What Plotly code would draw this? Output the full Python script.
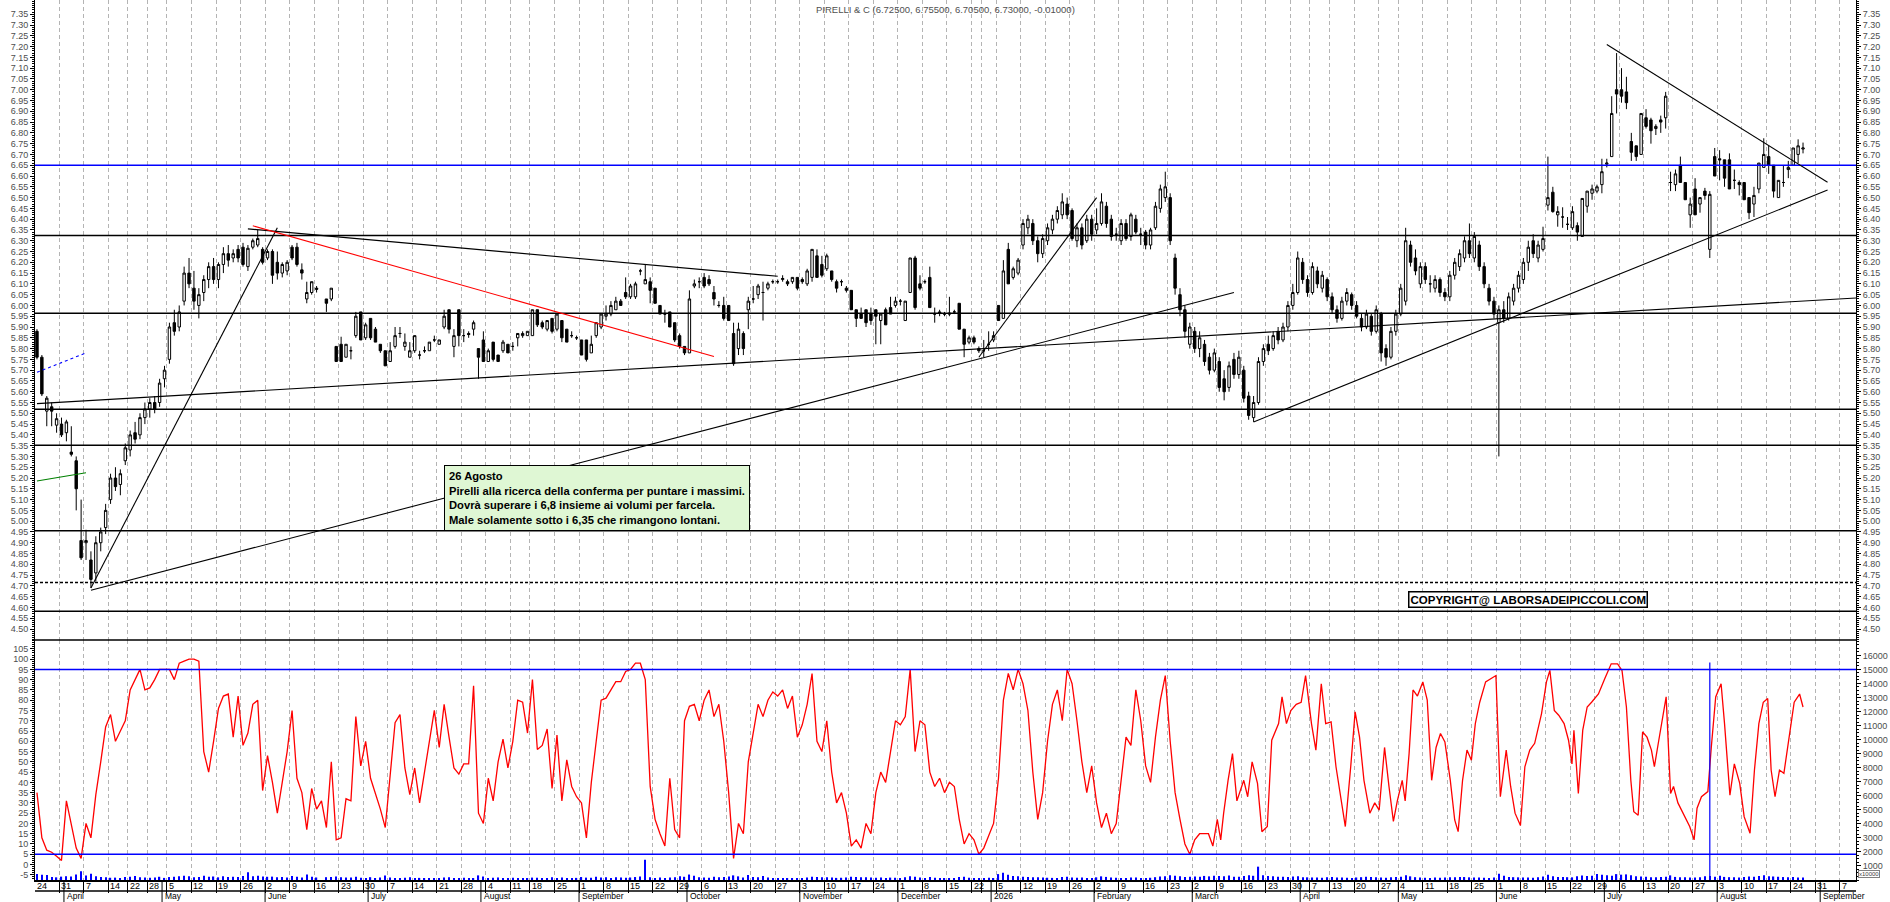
import pandas as pd
import plotly.graph_objects as go

# Trading sessions on the time axis (Borsa Italiana closing days removed)
HOLIDAYS = ["2025-04-18", "2025-04-21", "2025-05-01", "2025-08-15", "2025-12-24",
            "2025-12-25", "2025-12-26", "2025-12-31", "2026-01-01", "2026-04-03",
            "2026-04-06", "2026-05-01"]
sessions = pd.bdate_range("2025-03-24", "2026-09-30", freq="C", holidays=HOLIDAYS)

# Daily candles, one entry per session starting 24 March 2025 (None = no candle)
opens = [
    5.88, 5.76, 5.51, 5.53, 5.445, 5.45, 5.41, 5.32, 5.28, 4.91,
    4.90, 4.82, 4.76, 4.90, 4.97, 5.10, 5.20, 5.17, 5.28, 5.33,
    5.41, 5.40, 5.48, 5.52, 5.55, 5.55, 5.66, 5.75, 5.92, 5.90,
    6.02, 6.15, 6.08, 6.00, 6.06, 6.12, 6.18, 6.12, 6.19, 6.24,
    6.22, 6.26, 6.27, 6.18, 6.27, 6.28, 6.26, 6.22, 6.25, 6.20,
    6.15, 6.16, 6.27, 6.27, 6.165, 6.03, 6.06, 6.08, None, 6.03,
    6.03, 5.81, 5.82, 5.76, 5.79, 5.86, 5.97, 5.85, 5.94, 5.89,
    5.82, 5.79, 5.74, 5.81, 5.87, 5.81, 5.76, 5.79, 5.77, 5.79,
    5.79, 5.84, 5.82, 5.90, 5.98, 5.81, 5.98, 5.86, 5.87, 5.89,
    5.80, 5.84, 5.74, 5.83, 5.77, 5.79, 5.82, 5.81, 5.85, 5.86,
    5.86, 5.86, 5.98, 5.92, 5.89, 5.94, 5.89, 5.93, 5.89, 5.86,
    5.85, 5.84, 5.84, 5.78, 5.86, 5.90, 5.95, 5.96, 5.98, 6.02,
    6.06, 6.04, 6.04, 6.16, 6.10, 6.11, 6.08, 6.00, 5.96, 5.97,
    5.92, 5.86, 5.81, 5.78, 6.09, 6.11, 6.13, 6.12, 6.06, 6.00,
    6.00, 6.00, 5.87, 5.80, 5.87, 5.98, 6.03, 6.05, 6.06, 6.08,
    6.11, 6.11, 6.12, 6.11, 6.11, 6.13, 6.12, 6.10, 6.13, 6.23,
    6.19, 6.17, 6.16, 6.11, 6.11, 6.08, 6.07, 5.98, 5.96, 5.98,
    5.96, 5.98, 5.93, 5.98, 5.99, 6.00, 6.02, 5.93, 6.06, 6.22,
    6.10, 6.11, 6.13, 5.96, 5.97, 5.96, 5.965, 5.97, 6.01, 5.89,
    5.83, 5.85, 5.80, 5.79, 5.82, 5.84, 6.00, 5.94, 6.26, 6.13,
    6.15, 6.28, 6.36, 6.38, 6.30, 6.24, 6.30, 6.35, 6.40, 6.42,
    6.47, 6.44, 6.30, 6.36, 6.30, 6.40, 6.35, 6.38, 6.46, 6.40,
    6.33, 6.30, 6.38, 6.32, 6.40, 6.33, 6.34, 6.28, 6.36, 6.45,
    6.50, 6.50, 6.22, 6.05, 5.98, 5.82, 5.88, 5.80, 5.82, 5.76,
    5.70, 5.74, 5.66, 5.62, 5.75, 5.68, 5.70, 5.58, 5.48, 5.55,
    5.74, 5.82, 5.80, 5.88, 5.84, 5.90, 6.00, 6.06, 6.20, 6.12,
    6.06, 6.16, 6.08, 6.12, 6.04, 5.98, 5.94, 6.02, 6.05, 6.00,
    5.94, 5.90, 5.95, 5.88, 5.96, 5.80, 5.76, 5.88, 5.96, 6.02,
    6.28, 6.22, 6.10, 6.18, 6.10, 6.08, 6.12, 6.06, 6.04, 6.14,
    6.18, 6.22, 6.30, 6.22, 6.28, 6.18, 6.08, 6.02, 5.92, 5.98,
    5.94, 6.02, 6.08, 6.12, 6.20, 6.30, 6.22, 6.26, 6.465, 6.525,
    6.42, 6.41, 6.376, 6.36, 6.37, 6.32, 6.46, 6.52, 6.53, 6.56,
    6.655, 6.69, 7.00, 7.00, 6.99, 6.76, 6.74, 6.70, 6.87, 6.86,
    6.82, 6.86, 6.87, 6.57, 6.56, 6.65, 6.57, 6.42, 6.54, 6.47,
    6.53, 6.26, 6.69, 6.68, 6.675, 6.675, 6.58, 6.57, 6.57, 6.50,
    6.47, 6.54, 6.64, 6.69, 6.65, 6.50, 6.57, 6.63, 6.65, 6.70,
    6.725,
]
highs = [
    5.89, 5.77, 5.58, 5.55, 5.50, 5.48, 5.47, 5.44, 5.30, 5.10,
    4.96, 4.86, 4.93, 4.97, 5.08, 5.22, 5.25, 5.24, 5.36, 5.42,
    5.46, 5.50, 5.55, 5.57, 5.58, 5.66, 5.72, 5.92, 5.98, 6.00,
    6.18, 6.22, 6.16, 6.08, 6.14, 6.20, 6.22, 6.20, 6.27, 6.28,
    6.26, 6.28, 6.29, 6.28, 6.31, 6.35, 6.27, 6.26, 6.26, 6.25,
    6.20, 6.21, 6.28, 6.29, 6.195, 6.11, 6.11, 6.09, None, 6.03,
    6.08, 5.81, 5.855, 5.82, 5.81, 5.97, 5.97, 5.92, 5.94, 5.90,
    5.82, 5.79, 5.83, 5.90, 5.90, 5.87, 5.83, 5.86, 5.79, 5.81,
    5.83, 5.86, 5.84, 5.98, 5.98, 5.89, 5.98, 5.89, 5.88, 5.93,
    5.80, 5.88, 5.80, 5.83, 5.77, 5.84, 5.82, 5.83, 5.87, 5.88,
    5.88, 5.98, 5.98, 5.93, 5.93, 5.94, 5.965, 5.93, 5.89, 5.88,
    5.86, 5.84, 5.84, 5.86, 5.92, 5.96, 6.00, 6.02, 6.04, 6.03,
    6.13, 6.10, 6.11, 6.17, 6.19, 6.13, 6.08, 6.00, 5.98, 5.97,
    5.92, 5.87, 5.81, 6.07, 6.12, 6.13, 6.15, 6.14, 6.09, 6.02,
    6.04, 6.00, 5.92, 5.92, 5.88, 6.04, 6.09, 6.10, 6.11, 6.11,
    6.12, 6.12, 6.14, 6.12, 6.13, 6.13, 6.13, 6.17, 6.26, 6.26,
    6.23, 6.24, 6.16, 6.12, 6.12, 6.09, 6.07, 5.98, 5.99, 5.98,
    5.99, 5.98, 5.96, 5.99, 6.04, 6.04, 6.03, 6.02, 6.22, 6.23,
    6.14, 6.12, 6.18, 5.99, 5.98, 5.97, 6.04, 5.98, 6.01, 5.89,
    5.86, 5.86, 5.81, 5.84, 5.88, 5.88, 6.00, 6.21, 6.29, 6.18,
    6.22, 6.40, 6.42, 6.40, 6.32, 6.33, 6.38, 6.42, 6.46, 6.52,
    6.50, 6.45, 6.38, 6.38, 6.42, 6.42, 6.45, 6.52, 6.48, 6.42,
    6.36, 6.40, 6.40, 6.43, 6.42, 6.36, 6.35, 6.36, 6.48, 6.56,
    6.62, 6.52, 6.24, 6.08, 6.00, 5.92, 5.90, 5.88, 5.84, 5.78,
    5.80, 5.76, 5.70, 5.74, 5.78, 5.79, 5.72, 5.60, 5.58, 5.76,
    5.82, 5.86, 5.88, 5.90, 5.92, 6.02, 6.10, 6.25, 6.22, 6.14,
    6.20, 6.18, 6.16, 6.13, 6.06, 6.00, 6.04, 6.08, 6.06, 6.02,
    5.96, 5.98, 5.96, 6.00, 5.97, 5.82, 5.90, 5.98, 6.10, 6.36,
    6.30, 6.26, 6.20, 6.20, 6.14, 6.14, 6.13, 6.08, 6.16, 6.22,
    6.26, 6.32, 6.38, 6.34, 6.30, 6.20, 6.10, 6.04, 6.00, 6.02,
    6.06, 6.10, 6.16, 6.22, 6.30, 6.33, 6.30, 6.365, 6.69, 6.55,
    6.46, 6.455, 6.41, 6.46, 6.385, 6.496, 6.53, 6.56, 6.56, 6.68,
    6.68, 6.97, 7.17, 7.10, 7.06, 6.80, 6.74, 6.89, 6.91, 6.87,
    6.84, 6.88, 6.99, 6.62, 6.63, 6.69, 6.57, 6.50, 6.59, 6.50,
    6.545, 6.53, 6.73, 6.72, 6.675, 6.705, 6.63, 6.58, 6.57, 6.50,
    6.55, 6.66, 6.775, 6.74, 6.65, 6.58, 6.65, 6.67, 6.73, 6.77,
    6.755,
]
lows = [
    5.75, 5.58, 5.44, 5.44, 5.41, 5.39, 5.37, 5.30, 5.05, 4.82,
    4.82, 4.69, 4.72, 4.86, 4.94, 5.08, 5.14, 5.12, 5.26, 5.30,
    5.36, 5.38, 5.45, 5.48, 5.50, 5.53, 5.62, 5.73, 5.86, 5.88,
    6.00, 6.08, 5.98, 5.94, 6.02, 6.08, 6.10, 6.08, 6.15, 6.18,
    6.20, 6.20, 6.18, 6.16, 6.26, 6.27, 6.19, 6.21, 6.10, 6.12,
    6.13, 6.14, 6.21, 6.18, 6.12, 6.01, 6.05, 6.06, None, 5.97,
    6.02, 5.74, 5.74, 5.76, 5.75, 5.85, 5.84, 5.84, 5.84, 5.83,
    5.78, 5.72, 5.74, 5.80, 5.85, 5.79, 5.76, 5.78, 5.75, 5.78,
    5.79, 5.83, 5.82, 5.89, 5.87, 5.76, 5.81, 5.83, 5.85, 5.86,
    5.66, 5.74, 5.74, 5.74, 5.74, 5.78, 5.78, 5.79, 5.81, 5.85,
    5.86, 5.86, 5.90, 5.89, 5.88, 5.87, 5.88, 5.83, 5.83, 5.85,
    5.84, 5.77, 5.74, 5.78, 5.85, 5.89, 5.93, 5.95, 5.98, 6.00,
    6.03, 6.03, 6.03, 6.14, 6.10, 6.01, 6.01, 5.96, 5.92, 5.90,
    5.83, 5.80, 5.77, 5.78, 6.08, 6.08, 6.08, 6.09, 6.00, 5.99,
    5.93, 5.93, 5.72, 5.77, 5.77, 5.89, 6.01, 6.03, 5.93, 6.07,
    6.10, 6.10, 6.11, 6.09, 6.10, 6.07, 6.10, 6.09, 6.11, 6.13,
    6.13, 6.16, 6.11, 6.06, 6.09, 6.06, 5.98, 5.90, 5.94, 5.90,
    5.91, 5.82, 5.82, 5.91, 5.96, 5.99, 6.00, 5.93, 6.06, 5.98,
    6.07, 6.10, 5.99, 5.92, 5.95, 5.95, 5.95, 5.96, 5.89, 5.76,
    5.82, 5.82, 5.78, 5.76, 5.79, 5.83, 5.93, 5.94, 6.10, 6.12,
    6.14, 6.26, 6.33, 6.28, 6.20, 6.22, 6.28, 6.33, 6.38, 6.40,
    6.40, 6.30, 6.27, 6.26, 6.29, 6.30, 6.33, 6.37, 6.36, 6.30,
    6.30, 6.28, 6.30, 6.30, 6.33, 6.28, 6.26, 6.26, 6.35, 6.43,
    6.48, 6.28, 6.05, 5.95, 5.85, 5.80, 5.78, 5.76, 5.72, 5.68,
    5.69, 5.60, 5.56, 5.60, 5.66, 5.66, 5.55, 5.47, 5.46, 5.54,
    5.72, 5.77, 5.79, 5.82, 5.83, 5.88, 5.98, 6.05, 6.10, 6.04,
    6.05, 6.08, 6.06, 6.02, 5.96, 5.92, 5.93, 6.00, 5.98, 5.94,
    5.88, 5.89, 5.86, 5.87, 5.74, 5.72, 5.75, 5.86, 5.95, 6.00,
    6.18, 6.14, 6.08, 6.10, 6.06, 6.06, 6.04, 6.02, 6.02, 6.12,
    6.16, 6.20, 6.22, 6.20, 6.16, 6.08, 6.00, 5.94, 5.30, 5.92,
    5.93, 6.00, 6.06, 6.10, 6.16, 6.22, 6.20, 6.25, 6.44, 6.43,
    6.365, 6.36, 6.35, 6.35, 6.30, 6.32, 6.43, 6.49, 6.52, 6.52,
    6.64, 6.69, 6.89, 6.94, 6.91, 6.67, 6.67, 6.70, 6.82, 6.75,
    6.79, 6.80, 6.82, 6.53, 6.53, 6.57, 6.49, 6.36, 6.42, 6.43,
    6.49, 6.22, 6.60, 6.58, 6.55, 6.54, 6.54, 6.51, 6.49, 6.40,
    6.41, 6.52, 6.64, 6.61, 6.50, 6.50, 6.55, 6.59, 6.65, 6.66,
    6.705,
]
closes = [
    5.76, 5.59, 5.57, 5.51, 5.475, 5.40, 5.46, 5.31, 5.15, 4.83,
    4.91, 4.73, 4.90, 4.95, 5.05, 5.20, 5.16, 5.22, 5.34, 5.40,
    5.38, 5.48, 5.52, 5.55, 5.52, 5.64, 5.70, 5.90, 5.88, 5.97,
    6.15, 6.10, 6.02, 6.05, 6.12, 6.18, 6.12, 6.19, 6.24, 6.21,
    6.24, 6.22, 6.19, 6.265, 6.30, 6.31, 6.20, 6.25, 6.14, 6.15,
    6.19, 6.20, 6.22, 6.19, 6.15, 6.06, 6.11, 6.075, None, 6.01,
    6.08, 5.74, 5.74, 5.82, 5.79, 5.95, 5.84, 5.91, 5.85, 5.83,
    5.79, 5.72, 5.79, 5.86, 5.87, 5.83, 5.79, 5.86, 5.77, 5.79,
    5.83, 5.84, 5.84, 5.95, 5.89, 5.86, 5.86, 5.86, 5.865, 5.92,
    5.76, 5.74, 5.79, 5.75, 5.74, 5.83, 5.78, 5.81, 5.87, 5.87,
    5.88, 5.98, 5.91, 5.90, 5.93, 5.88, 5.96, 5.85, 5.83, 5.86,
    5.85, 5.77, 5.75, 5.82, 5.92, 5.96, 5.96, 6.00, 6.02, 6.00,
    6.04, 6.09, 6.10, 6.16, 6.12, 6.07, 6.01, 5.96, 5.96, 5.90,
    5.84, 5.81, 5.78, 6.03, 6.10, 6.11, 6.09, 6.10, 6.03, 6.00,
    5.94, 5.93, 5.73, 5.89, 5.80, 6.02, 6.03, 6.09, 6.06, 6.10,
    6.11, 6.11, 6.125, 6.10, 6.13, 6.08, 6.11, 6.16, 6.26, 6.13,
    6.14, 6.23, 6.12, 6.08, 6.11, 6.07, 5.98, 5.94, 5.94, 5.92,
    5.93, 5.95, 5.96, 5.91, 5.96, 6.02, 6.02, 6.02, 6.22, 5.99,
    6.08, 6.11, 5.99, 5.96, 5.965, 5.96, 5.96, 5.97, 5.89, 5.82,
    5.85, 5.83, 5.79, 5.79, 5.82, 5.86, 5.93, 6.16, 6.10, 6.17,
    6.21, 6.38, 6.40, 6.30, 6.24, 6.31, 6.36, 6.40, 6.44, 6.48,
    6.42, 6.31, 6.36, 6.28, 6.40, 6.33, 6.38, 6.48, 6.38, 6.32,
    6.33, 6.38, 6.31, 6.42, 6.34, 6.33, 6.28, 6.35, 6.46, 6.54,
    6.55, 6.30, 6.08, 5.98, 5.88, 5.90, 5.80, 5.85, 5.74, 5.70,
    5.78, 5.62, 5.60, 5.72, 5.68, 5.76, 5.57, 5.49, 5.55, 5.74,
    5.80, 5.79, 5.86, 5.84, 5.90, 6.00, 6.06, 6.22, 6.12, 6.06,
    6.18, 6.10, 6.14, 6.04, 5.98, 5.94, 6.02, 6.06, 6.00, 5.95,
    5.90, 5.96, 5.88, 5.98, 5.78, 5.76, 5.88, 5.96, 6.08, 6.30,
    6.20, 6.16, 6.18, 6.12, 6.10, 6.12, 6.06, 6.04, 6.14, 6.20,
    6.24, 6.30, 6.24, 6.32, 6.18, 6.10, 6.02, 5.96, 5.98, 5.94,
    6.04, 6.08, 6.14, 6.20, 6.27, 6.24, 6.28, 6.31, 6.50, 6.435,
    6.435, 6.41, 6.376, 6.435, 6.34, 6.496, 6.53, 6.54, 6.55, 6.62,
    6.66, 6.89, 6.98, 6.97, 6.94, 6.71, 6.69, 6.89, 6.83, 6.81,
    6.83, 6.85, 6.97, 6.57, 6.61, 6.57, 6.49, 6.47, 6.42, 6.50,
    6.51, 6.515, 6.60, 6.675, 6.59, 6.54, 6.58, 6.56, 6.49, 6.43,
    6.51, 6.66, 6.70, 6.65, 6.53, 6.58, 6.57, 6.64, 6.73, 6.74,
    6.73,
]

# Daily volume, right scale (x10000)
volume = [
    420, 380, 350, 210, 190, 240, 270, 250, 390, 620, 320, 440, 260, 210, 190, 160, 170, 150, 220, 240,
    280, 190, 170, 160, 180, 230, 150, 210, 240, 260, 310, 260, 190, 210, 310, 230, 250, 190, 270, 210,
    240, 220, 280, 560, 270, 310, 250, 230, 240, 190, 220, 180, 290, 240, 170, 390, 230, 180, 0, 200,
    220, 250, 190, 170, 180, 230, 160, 150, 200, 140, 180, 320, 170, 150, 130, 160, 190, 140, 150, 130,
    140, 120, 130, 180, 200, 150, 130, 160, 140, 120, 330, 250, 140, 160, 170, 150, 130, 160, 140, 150,
    120, 170, 160, 140, 130, 190, 150, 180, 140, 130, 150, 210, 170, 160, 230, 180, 190, 150, 200, 170,
    160, 180, 210, 250, 1450, 190, 150, 170, 140, 180, 200, 260, 230, 390, 310, 200, 170, 160, 230, 190,
    210, 250, 330, 260, 180, 350, 220, 190, 280, 170, 150, 140, 130, 120, 140, 130, 150, 180, 240, 220,
    190, 200, 170, 150, 160, 180, 230, 210, 190, 200, 170, 160, 180, 150, 170, 160, 140, 200, 260, 230,
    170, 150, 220, 160, 150, 130, 140, 120, 210, 240, 160, 150, 110, 120, 160, 130, 420, 510, 380, 290,
    260, 240, 210, 190, 200, 170, 160, 150, 140, 210, 230, 180, 160, 170, 150, 140, 190, 260, 220, 170,
    160, 150, 140, 170, 180, 150, 140, 160, 200, 250, 270, 330, 300, 260, 220, 240, 250, 230, 290, 260,
    300, 280, 270, 320, 240, 230, 290, 340, 300, 950, 330, 290, 260, 240, 230, 220, 250, 270, 200, 190,
    180, 170, 160, 190, 210, 180, 170, 160, 150, 180, 200, 230, 210, 190, 170, 160, 200, 210, 240, 330,
    260, 200, 180, 160, 150, 170, 160, 180, 190, 200, 220, 210, 190, 180, 170, 160, 150, 180, 440, 300,
    220, 200, 190, 180, 170, 160, 200, 250, 370, 260, 220, 210, 200, 190, 260, 320, 290, 300, 420, 380,
    330, 310, 420, 380, 400, 330, 270, 250, 230, 200, 190, 210, 240, 330, 220, 200, 190, 180, 170, 200,
    260, 280, 240, 300, 220, 200, 190, 170, 210, 250, 230, 280, 330, 270, 250, 230, 210, 190, 220, 180,
    170,
]

# Stochastic oscillator: one value per session up to early March 2026 ...
stoch_early = [
    35, 13, 7, 6, 4, 2, 31, 19, 8, 3, 20, 13, 34, 50, 67, 73, 60, 65, 70, 85,
    90, 95, 85, 86, 90, 95, 95, 95, 90, 98, 99, 100, 100, 99, 55, 45, 60, 76, 82, 83,
    62, 82, 58, 64, 78, 80, 36, 53, 40, 25, 40, 55, 75, 42, 35, 17, 37, 27, 31, 18,
    50, 12, 13, 32, 31, 72, 48, 60, 42, 35, 27, 18, 42, 69, 73, 47, 34, 47, 30, 45,
    60, 75, 57, 78, 62, 47, 44, 49, 49, 87, 25, 20, 42, 31, 50, 61, 47, 60, 80, 79,
    64, 90, 56, 58, 66, 37, 63, 31, 51, 38, 33, 30, 13, 40, 60, 80, 81, 85, 89, 89,
    94, 95, 98, 98, 90, 38, 22, 15, 9, 42, 17, 13, 70, 77, 78, 70, 80, 85, 72, 78,
    60, 35, 3, 20, 15, 50, 65, 78, 72, 80, 84, 82, 85, 76, 82, 62, 68, 78, 93, 60,
    55, 70, 45, 30, 35, 25, 9, 12, 8, 20, 15, 35, 45, 40, 55, 70, 68, 72, 95, 55,
    70, 68, 45, 38, 42, 35, 40, 38, 22, 10, 15, 12, 5, 8, 14, 20, 42, 80, 93, 85,
    95, 88, 75, 45, 22, 35, 60, 78, 85, 70, 95, 88, 70, 50, 35, 48, 30, 18, 25, 15,
    20, 40, 62, 58, 85, 70, 48, 40, 62, 80, 92, 60, 35, 22, 10, 5, 12, 15,
]
# ... then read at the turning points of the line
stoch_late_session = [
    238.8, 239.7, 240.6, 241.3, 241.9, 242.8, 243.7, 244.6, 246.0, 246.8,
    247.7, 248.8, 249.7, 250.8, 251.7, 253.1, 253.8, 254.7, 255.6, 256.7,
    257.7, 258.6, 259.8, 260.7, 261.8, 262.7, 263.8, 264.8, 265.8, 266.7,
    267.8, 268.7, 269.6, 270.5, 271.7, 272.7, 273.6, 274.7, 275.6, 276.5,
    277.3, 278.3, 278.9, 279.7, 280.5, 281.4, 282.5, 283.4, 284.3, 285.2,
    286.1, 287.0, 288.1, 289.0, 289.7, 290.6, 291.5, 292.4, 293.2, 294.1,
    295.3, 296.4, 297.4, 298.3, 299.5, 300.4, 301.3, 302.4, 303.3, 304.3,
    305.3, 306.7, 307.7, 308.4, 309.3, 310.2, 311.3, 312.2, 312.9, 313.3,
    314.2, 315.1, 316.0, 316.9, 318.3, 319.6, 320.9, 322.2, 323.1, 324.0,
    324.9, 325.5, 326.4, 327.3, 328.2, 329.1, 329.7, 330.6, 332.1, 333.0,
    333.6, 334.5, 335.7, 336.9, 337.8, 338.4, 339.3, 340.6, 341.3, 342.2,
    343.3, 344.0, 345.1, 346.0, 347.1, 348.0, 349.2, 350.1, 351.0, 351.9,
    352.8, 353.5, 354.3, 355.2, 356.1, 357.0, 358.2, 359.3, 360.0,
]
stoch_late_value = [
    15, 9, 22, 12, 25, 41, 54, 31, 41, 33,
    50, 39.5, 16, 18.5, 60.5, 68.6, 81.6, 68.6, 75, 78,
    79, 92, 68.6, 55.7, 88, 68.6, 69.4, 47.6, 31, 18.5,
    47.6, 74.3, 62, 41, 25, 30, 26.5, 57, 38, 21,
    31, 41, 31, 54, 85, 82, 88.9, 80, 41, 57,
    63.8, 59.7, 41, 21.7, 16, 41, 55.7, 50.8, 68.6, 79,
    88.9, 90.5, 92, 33, 55.7, 38, 25, 19, 47.6, 55.7,
    59, 73.5, 88.9, 94.5, 75, 72.7, 68.6, 60.5, 49, 65.4,
    34.6, 65.4, 76.7, 79, 83, 90.5, 97.7, 97.7, 94.5, 76.7,
    41, 25.7, 24, 64.6, 62, 55.7, 47.6, 60.5, 81.6, 34.6,
    38, 30, 24, 18.5, 12, 27.4, 33, 35.5, 57, 81.6,
    88, 68.6, 33.8, 49, 39.5, 23.3, 15.2, 46, 68.6, 79,
    80.8, 46, 33, 46, 44.4, 59, 79, 83, 76.7,
]

# Horizontal price levels
level_blue = 6.65
levels_black = [6.324, 5.964, 5.519, 5.352, 4.956, 4.582]
level_dotted = 4.716
stoch_bands = [95, 5]

# Trend lines: (start session, start price, end session, end price)
trend_black = [
    ("2025-03-24", 5.545, "2026-09-10", 6.035),
    ("2025-04-08", 4.69, "2025-06-04", 6.36),
    ("2025-04-08", 4.68, "2026-03-12", 6.06),
    ("2025-05-27", 6.355, "2025-10-27", 6.135),
    ("2025-12-23", 5.76, "2026-02-02", 6.50),
    ("2026-03-18", 5.46, "2026-09-02", 6.535),
    ("2026-07-01", 7.21, "2026-09-02", 6.571),
]
trend_red = [("2025-05-28", 6.369, "2025-10-08", 5.763)]
trend_blue = [("2025-03-24", 5.69, "2025-04-07", 5.78)]
trend_green = [("2025-03-24", 5.186, "2025-04-07", 5.224)]
cursor_day = "2026-07-30"

comment_lines = [
    "26 Agosto",
    "Pirelli alla ricerca della conferma per puntare i massimi.",
    "Dovrà superare i 6,8 insieme ai volumi per farcela.",
    "Male solamente sotto i 6,35 che rimangono lontani.",
]

# ------------------------------------------------------------------
pos = {d.strftime("%Y-%m-%d"): i for i, d in enumerate(sessions)}
x_days = list(range(len(opens)))
x_range = [-0.4, 370.8]
split = 240 / 880

week_starts = [i for i in range(len(sessions))
               if (i == 0 or sessions[i].isocalendar()[1] != sessions[i - 1].isocalendar()[1])
               and i - 0.5 < x_range[1]]
month_starts = [i for i in range(1, len(sessions))
                if sessions[i].month != sessions[i - 1].month and i - 0.5 < x_range[1]]
grid_vals = [i - 0.5 for i in week_starts]

AXIS_FONT = "Arial, Liberation Sans, sans-serif"
tick_font = dict(family=AXIS_FONT, size=9, color="#4d4d4d")

fig = go.Figure()

fig.add_trace(go.Candlestick(
    x=x_days, open=opens, high=highs, low=lows, close=closes,
    xaxis="x", yaxis="y", whiskerwidth=0,
    increasing=dict(line=dict(color="black", width=1), fillcolor="white"),
    decreasing=dict(line=dict(color="black", width=1), fillcolor="black"),
    showlegend=False, hoverinfo="skip",
))
# keeps the right-hand price scale alive
fig.add_trace(go.Scatter(x=[x_days[-1]], y=[closes[-1]], xaxis="x", yaxis="y3",
                         mode="markers", marker=dict(opacity=0), hoverinfo="skip",
                         showlegend=False))
fig.add_trace(go.Bar(x=x_days, y=volume, xaxis="x2", yaxis="y4", width=0.25,
                     marker=dict(color="#0000ff", line=dict(width=0)),
                     hoverinfo="skip", showlegend=False))
stoch_x = list(range(len(stoch_early))) + stoch_late_session
stoch_y = stoch_early + stoch_late_value
fig.add_trace(go.Scatter(x=stoch_x, y=stoch_y, xaxis="x2", yaxis="y2", mode="lines",
                         line=dict(color="#ff0000", width=1.3), hoverinfo="skip",
                         showlegend=False))

shapes = []
shapes.append(dict(type="line", xref="paper", x0=0, x1=1, yref="y", y0=level_blue, y1=level_blue,
                   line=dict(color="#0000ff", width=1.5)))
for lv in levels_black:
    shapes.append(dict(type="line", xref="paper", x0=0, x1=1, yref="y", y0=lv, y1=lv,
                       line=dict(color="black", width=1.5)))
shapes.append(dict(type="line", xref="paper", x0=0, x1=1, yref="y", y0=level_dotted, y1=level_dotted,
                   line=dict(color="black", width=1.5, dash="3px,2px")))
for group, color, dash in [(trend_black, "black", "solid"), (trend_red, "#ff0000", "solid"),
                           (trend_blue, "#0000ff", "3px,3px"), (trend_green, "#008000", "solid")]:
    for d0, p0, d1, p1 in group:
        shapes.append(dict(type="line", xref="x", yref="y", x0=pos[d0], y0=p0, x1=pos[d1], y1=p1,
                           line=dict(color=color, width=1.1, dash=dash)))
for b in stoch_bands:
    shapes.append(dict(type="line", xref="paper", x0=0, x1=1, yref="y2", y0=b, y1=b,
                       line=dict(color="#0000ff", width=1.5)))
shapes.append(dict(type="line", xref="x2", x0=pos[cursor_day], x1=pos[cursor_day],
                   yref="y4", y0=0, y1=15500, line=dict(color="#0000ff", width=1.2)))
# panel separator and the month row under the day labels
shapes.append(dict(type="line", xref="paper", x0=0, x1=1, yref="paper", y0=split, y1=split,
                   line=dict(color="black", width=1.5)))
shapes.append(dict(type="line", xref="paper", x0=0, x1=1, yref="paper", y0=-11 / 880, y1=-11 / 880,
                   line=dict(color="black", width=1.5)))
for m in month_starts:
    shapes.append(dict(type="line", xref="x2", x0=m - 0.5, x1=m - 0.5, yref="paper",
                       y0=0, y1=-22 / 880, line=dict(color="black", width=1)))

annotations = []
title = "PIRELLI & C ({:.5f}, {:.5f}, {:.5f}, {:.5f}, {:.5f})".format(
    opens[-1], highs[-1], lows[-1], closes[-1], closes[-1] - closes[-2])
annotations.append(dict(x=0.5, xref="paper", y=1, yref="paper", yanchor="top", yshift=-2,
                        text=title, showarrow=False,
                        font=dict(family=AXIS_FONT, size=9.5, color="#505050")))
annotations.append(dict(
    x=pos["2025-07-22"], xref="x", y=5.262, yref="y", xanchor="left", yanchor="top",
    text="<br>".join("<b>%s</b>" % s for s in comment_lines), align="left", showarrow=False,
    bgcolor="#dff7d4", bordercolor="black", borderwidth=1, borderpad=4,
    font=dict(family=AXIS_FONT, size=11.2, color="black")))
annotations.append(dict(
    x=pos["2026-06-09"], xref="x", y=4.636, yref="y", xanchor="center", yanchor="middle",
    text="<b>COPYRIGHT@ LABORSADEIPICCOLI.COM</b>", showarrow=False,
    bgcolor="white", bordercolor="black", borderwidth=1.5, borderpad=1,
    font=dict(family="Liberation Sans Narrow, Arial Narrow, Arial", size=11.5, color="black")))
annotations.append(dict(x=1, xref="paper", y=2 / 880, yref="paper", xanchor="left", yanchor="bottom",
                        xshift=2, text="x10000", showarrow=False, bordercolor="#808080",
                        borderwidth=1, borderpad=0, font=dict(family=AXIS_FONT, size=6, color="#404040")))

for k, i in enumerate(week_starts):
    nxt = week_starts[k + 1] if k + 1 < len(week_starts) else i + 5
    if nxt - i <= 3 and any(i < m < nxt for m in month_starts):
        continue  # too short to carry a label
    annotations.append(dict(x=max(i - 0.5, x_range[0]), xref="x2", y=-5.5 / 880, yref="paper",
                            xanchor="left", yanchor="middle", xshift=1, text=str(sessions[i].day),
                            showarrow=False, borderpad=0,
                            font=dict(family=AXIS_FONT, size=9, color="black")))
for m in month_starts:
    d = sessions[m]
    label = str(d.year) if d.month == 1 else d.strftime("%B")
    annotations.append(dict(x=m - 0.5, xref="x2", y=-22 / 880, yref="paper", xanchor="left",
                            yanchor="bottom", xshift=2, yshift=0, text=label, showarrow=False,
                            borderpad=0, font=dict(family=AXIS_FONT, size=8.5, color="black")))

price_ticks = [round(4.50 + 0.05 * k, 2) for k in range(58)]
osc_ticks = list(range(-5, 106, 5))
vol_ticks = list(range(1000, 16001, 1000))

grid_common = dict(tickmode="array", tickvals=grid_vals, showticklabels=False,
                   showgrid=True, gridcolor="#b4b4b4", griddash="4px,3px", gridwidth=1,
                   zeroline=False, range=x_range)
yaxis_common = dict(ticks="outside", ticklen=4, tickcolor="black", tickwidth=1,
                    showline=True, linecolor="black", linewidth=1, showgrid=False,
                    zeroline=False, tickfont=tick_font)

fig.update_layout(
    width=1890, height=902,
    margin=dict(l=35, r=34, t=0, b=22),
    paper_bgcolor="white", plot_bgcolor="white",
    showlegend=False, hovermode=False,
    font=dict(family=AXIS_FONT),
    xaxis=dict(domain=[0, 1], anchor="y", ticks="", showline=False,
               rangeslider=dict(visible=False), **grid_common),
    xaxis2=dict(domain=[0, 1], anchor="y2", matches="x", ticks="outside", ticklen=11,
                tickcolor="black", showline=True, linecolor="black", linewidth=1.5, **grid_common),
    yaxis=dict(domain=[split, 1], anchor="x", range=[4.449, 7.416], tickmode="array",
               tickvals=price_ticks, ticktext=["%.2f" % v for v in price_ticks],
               minor=dict(dtick=0.01, tick0=0, ticks="outside", ticklen=2, tickcolor="black"),
               **yaxis_common),
    yaxis3=dict(overlaying="y", side="right", anchor="x", range=[4.449, 7.416], tickmode="array",
                tickvals=price_ticks, ticktext=["%.2f" % v for v in price_ticks],
                minor=dict(dtick=0.01, tick0=0, ticks="outside", ticklen=2, tickcolor="black"),
                **yaxis_common),
    yaxis2=dict(domain=[0, split], anchor="x2", range=[-7.53, 109.3], tickmode="array",
                tickvals=osc_ticks, ticktext=[str(v) for v in osc_ticks],
                minor=dict(dtick=1, tick0=0, ticks="outside", ticklen=2, tickcolor="black"),
                **yaxis_common),
    yaxis4=dict(overlaying="y2", side="right", anchor="x2", range=[0, 17097], tickmode="array",
                tickvals=vol_ticks, ticktext=[str(v) for v in vol_ticks],
                minor=dict(dtick=250, tick0=0, ticks="outside", ticklen=2, tickcolor="black"),
                **yaxis_common),
    shapes=shapes,
    annotations=annotations,
)

# the page body keeps the browser's default 8px margin otherwise
fig.write_html("out.html", config={"displayModeBar": False},
               post_script="document.body.style.margin='0px';")
